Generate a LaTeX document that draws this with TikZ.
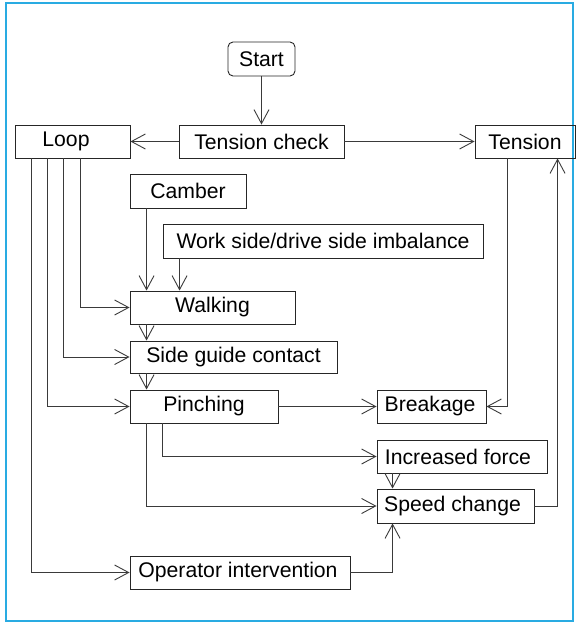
\documentclass[tikz,border=0pt]{standalone}
\usepackage{fontspec}
\setmainfont{Liberation Sans}
\usetikzlibrary{arrows.meta}
\definecolor{framecol}{HTML}{29ABE2}
\definecolor{linecol}{HTML}{3A3A3A}
\tikzset{
  box/.style={draw=black!85, line width=0.9pt, inner sep=0pt, rectangle,
    font=\fontsize{21.2}{25}\selectfont},
  conn/.style={draw=linecol, line width=0.9pt,
    -{Straight Barb[length=14pt,width=15pt,line width=0.9pt]}},
  plain/.style={draw=linecol, line width=0.9pt}
}
\begin{document}
\begin{tikzpicture}[x=1pt,y=-1pt]
\useasboundingbox (0,0) rectangle (575,623);
\draw[framecol, line width=1.8pt] (6,3) rectangle (573,621);
% nodes
\node[box, rounded corners=5pt, minimum width=67pt, minimum height=34pt] (start) at (261.5,59) {Start};
\node[box, minimum width=165pt, minimum height=33pt] (tcheck) at (261.5,141.5) {Tension check};
\node[box, minimum width=115pt, minimum height=33pt] (loop) at (72.5,141.5) {\hspace*{-13pt}Loop};
\node[box, minimum width=100pt, minimum height=33pt] (tension) at (525,141.5) {Tension};
\node[box, minimum width=116pt, minimum height=34pt] (camber) at (188,191) {Camber};
\node[box, minimum width=320pt, minimum height=34pt] (work) at (323,241) {Work side/drive side imbalance};
\node[box, minimum width=165pt, minimum height=33pt] (walking) at (212.5,307.5) {Walking};
\node[box, minimum width=207pt, minimum height=32pt] (side) at (233.5,357) {Side guide contact};
\node[box, minimum width=148pt, minimum height=33pt] (pinch) at (204,406.5) {Pinching};
\node[box, minimum width=109pt, minimum height=33pt] (breakage) at (431.5,406.5) {\hspace*{-3pt}Breakage};
\node[box, minimum width=170pt, minimum height=33pt] (incr) at (462,456.5) {\hspace*{-8pt}Increased force};
\node[box, minimum width=157pt, minimum height=34pt] (speed) at (455.5,506) {\hspace*{-6pt}Speed change};
\node[box, minimum width=220pt, minimum height=33pt] (oper) at (240,572.5) {\hspace*{-4pt}Operator intervention};
% connectors
\draw[conn] (start.south) -- (tcheck.north);
\draw[conn] (tcheck.west) -- (loop.east);
\draw[conn] (tcheck.east) -- (tension.west);
\draw[conn] ([xshift=66pt]loop.south west) |- (walking.west);
\draw[conn] ([xshift=49pt]loop.south west) |- (side.west);
\draw[conn] ([xshift=33pt]loop.south west) |- (pinch.west);
\draw[conn] ([xshift=17pt]loop.south west) |- (oper.west);
\draw[conn] ([xshift=17pt]camber.south west) -- ([xshift=17pt]camber.south west |- walking.north);
\draw[conn] ([xshift=17pt]work.south west) -- ([xshift=17pt]work.south west |- walking.north);
\draw[conn] ([xshift=17pt]walking.south west) -- ([xshift=17pt]side.north west);
\draw[conn] ([xshift=17pt]side.south west) -- ([xshift=17pt]pinch.north west);
\draw[conn] (pinch.east) -- (breakage.west);
\draw[conn] ([xshift=33pt]tension.south west) |- (breakage.east);
\draw[conn] (speed.east) -| ([xshift=83pt]tension.south west);
\draw[conn] ([xshift=33pt]pinch.south west) |- (incr.west);
\draw[conn] ([xshift=17pt]pinch.south west) |- (speed.west);
\draw[conn] ([xshift=16pt]incr.south west) -- ([xshift=16pt]speed.north west);
\draw[conn] (oper.east) -| ([xshift=16pt]speed.south west);
\end{tikzpicture}
\end{document}
